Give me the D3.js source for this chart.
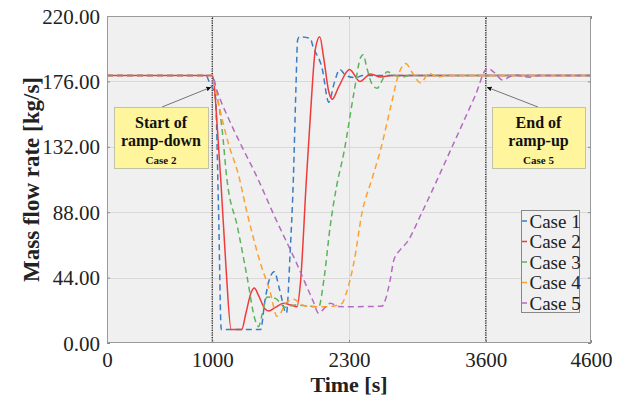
<!DOCTYPE html>
<html>
<head>
<meta charset="utf-8">
<script src="https://cdn.jsdelivr.net/npm/d3@7"></script>
<style>
  html, body { margin: 0; padding: 0; background: #fff; }
  svg { display: block; font-family: "Liberation Serif", "Times New Roman", serif; }
</style>
</head>
<body>
<svg id="chart" width="627" height="401"></svg>
<script>
// Mass flow rate during the ramp-down / ramp-up transients, [time s, kg/s]
const case1 = [[0,180],[940,180],[975,175],[1030,166],[1060,90],[1086,9],[1460,9],[1500,28],[1540,42],[1590,48],[1640,36],[1705,20],[1740,60],[1771,110],[1795,170],[1812,204],[1830,206],[1930,205],[1960,199],[2044,185],[2108,162],[2160,175],[2212,184],[2270,180],[2362,178.5],[2430,180],[4600,180]];
const case2 = [[0,180],[1000,180],[1015,176],[1050,143],[1083,108],[1130,52],[1180,9],[1280,9],[1320,20],[1370,34],[1400,37],[1440,32],[1500,23],[1537,21.5],[1600,24],[1679,26.7],[1750,25.5],[1806,24.4],[1838,40],[1895,110],[1933,153],[1981,198],[2022,206],[2060,191.5],[2108,169],[2140,164],[2200,172],[2305,184],[2403,176],[2505,181],[2600,179],[2700,180],[4600,180]];
const case3 = [[0,180],[1000,180],[1030,172],[1092,145],[1140,110],[1240,78],[1330,45],[1410,15],[1440,11],[1470,18],[1521,31],[1600,30],[1695,24],[1790,25.6],[1900,25],[2012,24.4],[2060,42],[2124,80],[2181,105],[2251,128],[2346,168],[2410,192],[2435,194],[2470,185],[2520,174],[2568,171.4],[2610,176],[2663,182.5],[2727,180.3],[2806,179],[2870,180],[4600,180]];
const case4 = [[0,180],[1000,180],[1020,174],[1060,161],[1155,134],[1250,113],[1330,88],[1457,54],[1552,34],[1616,18],[1650,20],[1695,26.7],[1775,29.4],[1854,25.6],[1949,24.4],[2092,24.4],[2235,26.7],[2267,32],[2346,54],[2425,88],[2521,111],[2600,130],[2700,160],[2775,181.5],[2838,188],[2900,182],[2981,175],[3060,181.5],[3140,178.8],[3235,180.3],[3300,180],[4600,180]];
const case5 = [[0,180],[1000,180],[1044,170],[1155,151],[1283,132],[1410,114],[1600,84],[1806,53],[1960,28],[2012,20],[2060,23],[2124,26.7],[2200,24.5],[2283,24.4],[2450,24.5],[2616,24.9],[2650,30],[2690,42],[2727,56],[2790,63],[2854,68],[2981,86],[3267,130],[3500,166.5],[3616,184.8],[3680,182],[3759,177],[3870,180.3],[4013,178.8],[4100,180],[4600,180]];

const seriesNames = ["Case 1", "Case 2", "Case 3", "Case 4", "Case 5"];
const seriesData = [case1, case2, case3, case4, case5];
const seriesColors = ["#3b7dc4", "#ef3b3b", "#5db35d", "#ffa02e", "#b46cc0"];
const seriesDashed = [true, false, true, true, true];

const xTicks = [0, 1000, 2300, 3600, 4600];
const yTicks = [0, 44, 88, 132, 176, 220];
const markerTimes = [1000, 3600];

// Callout boxes: anchor point in data units, box text lines
const callouts = [
  { at: [1000, 172], lines: ["Start of", "ramp-down", "Case 2"], box: [114, 107, 94, 61], from: [162, 107] },
  { at: [3600, 172], lines: ["End of", "ramp-up", "Case 5"], box: [492, 107, 93, 61], from: [538, 107] }
];

const svg = d3.select("#chart");
const W = 627, H = 401;
const m = { left: 107, right: 36, top: 16, bottom: 58 };
const x = d3.scaleLinear().domain([0, 4600]).range([m.left, W - m.right]);
const y = d3.scaleLinear().domain([0, 220]).range([H - m.bottom, m.top]);

const fontFam = '"Liberation Serif", "Times New Roman", serif';

// plot background
svg.append("rect")
  .attr("x", x(0)).attr("y", y(220))
  .attr("width", x(4600) - x(0)).attr("height", y(0) - y(220))
  .attr("fill", "#f0f0f0");

// grid
const grid = svg.append("g").attr("stroke", "#d9d9d9").attr("stroke-width", 1);
grid.selectAll("line.h").data(yTicks.slice(1, -1)).join("line")
  .attr("x1", x(0)).attr("x2", x(4600))
  .attr("y1", d => Math.round(y(d)) + 0.5).attr("y2", d => Math.round(y(d)) + 0.5);
grid.selectAll("line.v").data(xTicks.slice(1, -1)).join("line")
  .attr("y1", y(0)).attr("y2", y(220))
  .attr("x1", d => Math.round(x(d)) + 0.5).attr("x2", d => Math.round(x(d)) + 0.5);

// axes
const fmtY = d3.format(".2f");
const yAxis = svg.append("g")
  .attr("transform", `translate(${x(0)},0)`)
  .call(d3.axisLeft(y).tickValues(yTicks).tickFormat(fmtY).tickSize(-3).tickPadding(7));
const xAxis = svg.append("g")
  .attr("transform", `translate(0,${y(0)})`)
  .call(d3.axisBottom(x).tickValues(xTicks).tickFormat(d3.format("d")).tickSize(-3).tickPadding(6));
svg.append("g")
  .attr("transform", `translate(${x(4600)},0)`)
  .call(d3.axisRight(y).tickValues(yTicks).tickFormat("").tickSize(-3));
svg.append("g")
  .attr("transform", `translate(0,${y(220)})`)
  .call(d3.axisTop(x).tickValues(xTicks).tickFormat("").tickSize(-3));
svg.selectAll(".domain").remove();
svg.selectAll(".tick line").attr("stroke", "#888");
yAxis.selectAll("text").attr("font-family", fontFam).attr("font-size", 21).attr("fill", "#222").attr("dy", "0.34em");
xAxis.selectAll("text").attr("font-family", fontFam).attr("font-size", 21).attr("fill", "#222").attr("dy", "0.86em");

// event markers (dotted verticals)
svg.selectAll("line.marker").data(markerTimes).join("line")
  .attr("x1", d => x(d)).attr("x2", d => x(d))
  .attr("y1", y(0)).attr("y2", y(220))
  .attr("stroke", "#111").attr("stroke-width", 1.2).attr("stroke-dasharray", "1.2,1.2");

// series lines
const line = d3.line().x(d => x(d[0])).y(d => y(d[1])).curve(d3.curveMonotoneX);
const plot = svg.append("g");
seriesData.forEach((data, i) => {
  plot.append("path")
    .attr("d", line(data))
    .attr("fill", "none")
    .attr("stroke", seriesColors[i])
    .attr("stroke-width", 1.5)
    .attr("stroke-dasharray", seriesDashed[i] ? "6,4" : null);
});

// frame
svg.append("rect")
  .attr("x", x(0) + 0.5).attr("y", y(220) + 0.5)
  .attr("width", x(4600) - x(0) - 1).attr("height", y(0) - y(220) - 1)
  .attr("fill", "none").attr("stroke", "#9a9a9a").attr("stroke-width", 1);

// arrow marker
svg.append("defs").append("marker")
  .attr("id", "arrowhead").attr("viewBox", "0 0 10 10")
  .attr("refX", 9).attr("refY", 5)
  .attr("markerWidth", 6).attr("markerHeight", 6)
  .attr("orient", "auto")
  .append("path").attr("d", "M0,0 L10,5 L0,10 z").attr("fill", "#111");

// callouts
callouts.forEach(c => {
  const g = svg.append("g");
  g.append("line")
    .attr("x1", c.from[0]).attr("y1", c.from[1])
    .attr("x2", x(c.at[0]) - (c.at[0] < 2000 ? 1.5 : -1.5)).attr("y2", y(c.at[1]))
    .attr("stroke", "#555").attr("stroke-width", 0.8)
    .attr("marker-end", "url(#arrowhead)");
  const [bx, by, bw, bh] = c.box;
  g.append("rect")
    .attr("x", bx + 0.5).attr("y", by + 0.5).attr("width", bw).attr("height", bh)
    .attr("fill", "#fff59c").attr("stroke", "#c2c2a8").attr("stroke-width", 1);
  const cx = bx + bw / 2;
  g.append("text").attr("x", cx).attr("y", by + 21).attr("text-anchor", "middle")
    .attr("font-family", fontFam).attr("font-weight", "bold").attr("font-size", 16).attr("fill", "#111")
    .text(c.lines[0]);
  g.append("text").attr("x", cx).attr("y", by + 39).attr("text-anchor", "middle")
    .attr("font-family", fontFam).attr("font-weight", "bold").attr("font-size", 16).attr("fill", "#111")
    .text(c.lines[1]);
  g.append("text").attr("x", cx).attr("y", by + 57).attr("text-anchor", "middle")
    .attr("font-family", fontFam).attr("font-weight", "bold").attr("font-size", 11).attr("fill", "#111")
    .text(c.lines[2]);
});

// legend
const lg = svg.append("g");
lg.append("rect").attr("x", 521.5).attr("y", 210.5).attr("width", 58).attr("height", 102)
  .attr("fill", "#f0f0f0").attr("stroke", "#888").attr("stroke-width", 1);
seriesNames.forEach((name, i) => {
  const cy = 221 + i * 20.5;
  lg.append("line").attr("x1", 522).attr("x2", 527).attr("y1", cy).attr("y2", cy)
    .attr("stroke", seriesColors[i]).attr("stroke-width", 1.5);
  lg.append("text").attr("x", 529.5).attr("y", cy + 6.5)
    .attr("font-family", fontFam).attr("font-size", 19).attr("fill", "#222")
    .text(name);
});

// axis titles
svg.append("text")
  .attr("x", (x(0) + x(4600)) / 2).attr("y", 392)
  .attr("text-anchor", "middle")
  .attr("font-family", fontFam).attr("font-weight", "bold").attr("font-size", 22).attr("fill", "#222")
  .text("Time [s]");
svg.append("text")
  .attr("transform", `translate(39,${(y(0) + y(220)) / 2}) rotate(-90)`)
  .attr("text-anchor", "middle")
  .attr("font-family", fontFam).attr("font-weight", "bold").attr("font-size", 23).attr("fill", "#222")
  .text("Mass flow rate [kg/s]");
</script>
</body>
</html>
